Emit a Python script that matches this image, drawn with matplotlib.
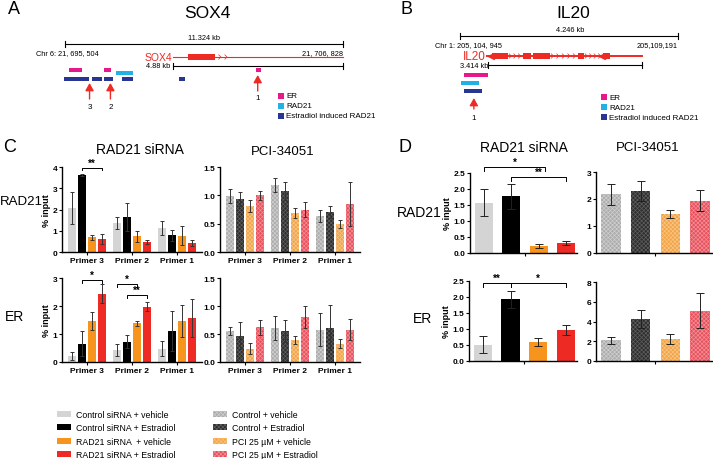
import numpy as np
import matplotlib
matplotlib.use('Agg')
import matplotlib.pyplot as plt
from matplotlib.patches import Rectangle

plt.rcParams['font.family'] = ['Liberation Sans', 'DejaVu Sans']
plt.rcParams['hatch.linewidth'] = 0.5

W, H = 713, 460

# ---------------- data ----------------
primers = ['Primer 3', 'Primer 2', 'Primer 1']
sirna_labels = ['Control siRNA + vehicle', 'Control siRNA + Estradiol',
                'RAD21 siRNA  + vehicle', 'RAD21 siRNA + Estradiol']
pci_labels = ['Control + vehicle', 'Control + Estradiol',
              'PCI 25 \u00b5M + vehicle', 'PCI 25 \u00b5M + Estradiol']

# SOX4 (rows: primer 3, 2, 1; columns: the four conditions)
sox4_rad21_sirna = [[2.07, 3.64, 0.70, 0.62], [1.38, 1.66, 0.75, 0.47], [1.13, 0.78, 0.77, 0.42]]
sox4_rad21_sirna_err = [[0.75, 0.05, 0.12, 0.22], [0.28, 0.65, 0.26, 0.10], [0.35, 0.27, 0.46, 0.13]]
sox4_rad21_pci = [[0.99, 0.94, 0.81, 1.00], [1.18, 1.08, 0.69, 0.75], [0.64, 0.71, 0.49, 0.85]]
sox4_rad21_pci_err = [[0.13, 0.12, 0.10, 0.08], [0.12, 0.16, 0.09, 0.14], [0.11, 0.11, 0.07, 0.39]]
sox4_er_sirna = [[0.21, 0.65, 1.46, 2.44], [0.43, 0.73, 1.38, 1.98], [0.48, 1.11, 1.45, 1.58]]
sox4_er_sirna_err = [[0.15, 0.45, 0.33, 0.35], [0.23, 0.22, 0.08, 0.17], [0.27, 0.70, 0.57, 0.67]]
sox4_er_pci = [[0.55, 0.47, 0.24, 0.62], [0.61, 0.55, 0.39, 0.80], [0.58, 0.61, 0.33, 0.58]]
sox4_er_pci_err = [[0.07, 0.24, 0.10, 0.13], [0.22, 0.20, 0.07, 0.20], [0.30, 0.40, 0.08, 0.19]]

# IL20
il20_rad21_sirna = [1.57, 1.77, 0.22, 0.32]
il20_rad21_sirna_err = [0.42, 0.38, 0.07, 0.06]
il20_rad21_pci = [2.17, 2.30, 1.46, 1.94]
il20_rad21_pci_err = [0.38, 0.38, 0.15, 0.39]
il20_er_sirna = [0.51, 1.93, 0.59, 0.97]
il20_er_sirna_err = [0.26, 0.26, 0.12, 0.17]
il20_er_pci = [2.10, 4.24, 2.20, 5.08]
il20_er_pci_err = [0.35, 0.90, 0.50, 1.76]

# genomic tracks (kb from region start)
sox4_span_kb = 11.324
sox4_er_peaks = [(0.16, 0.69), (1.59, 1.87), (7.77, 7.98)]
sox4_rad21_peaks = [(2.08, 2.77)]
sox4_e2_rad21_peaks = [(-0.04, 0.98), (1.10, 1.51), (1.59, 1.96), (2.32, 2.77), (4.64, 4.89)]
sox4_gene = (4.40, 11.324)
sox4_exons = [(5.0, 6.1)]
sox4_primers = [(1.0, '3'), (1.85, '2'), (7.85, '1')]

il20_span_kb = 4.246
il20_er_peaks = [(0.08, 0.55)]
il20_rad21_peaks = [(0.02, 0.37)]
il20_e2_rad21_peaks = [(0.08, 0.43)]
il20_gene = (0.53, 3.55)
il20_exons = [(0.62, 0.94), (1.23, 1.38), (1.42, 1.75), (2.30, 2.42), (2.79, 2.92)]
il20_primers = [(0.27, '1')]

sirna_colors = ['#d4d4d4', '#000000', '#f7941d', '#ee2a24']
pci_face = ['#acacac', '#2e2e2e', '#f2a447', '#e8505c']
pci_hatch = ['#cfcfcf', '#5e5e5e', '#f7c585', '#f28e96']
ER_C, RAD_C, E2_C, GENE_C = '#e8178a', '#22b1e4', '#283593', '#ee2a24'


def rect(x0, y0, x1, y1):
    return [x0 / W, 1 - y1 / H, (x1 - x0) / W, (y1 - y0) / H]


def style(ax, top, step, fmt):
    for s in ['top', 'right']:
        ax.spines[s].set_visible(False)
    for s in ['left', 'bottom']:
        ax.spines[s].set_linewidth(1.0)
    ticks = np.arange(0, top + step / 2, step)
    ax.set_ylim(0, top)
    ax.set_yticks(ticks)
    ax.set_yticklabels([fmt.format(t) for t in ticks], fontweight='bold')
    ax.tick_params(axis='both', length=2.5, width=0.8, labelsize=6, pad=1)


def grouped(ax, vals, errs, faces, hatches=None):
    vals, errs = np.array(vals), np.array(errs)
    x = np.arange(len(primers))
    offs = (np.arange(4) - 1.5) * 0.22
    conts = []
    for j in range(4):
        kw = dict(color=faces[j], linewidth=0)
        if hatches is not None:
            kw.update(edgecolor=hatches[j], hatch='xxxxxxxx')
        c = ax.bar(x + offs[j], vals[:, j], 0.17, yerr=errs[:, j],
                   error_kw=dict(ecolor='#333333', elinewidth=0.7, capsize=1.5, capthick=0.7),
                   **kw)
        conts.append(c)
    ax.set_xlim(-0.55, 2.55)
    ax.set_xticks(x)
    ax.set_xticklabels(primers, fontweight='bold', fontsize=6.8)
    return conts, x, offs


def single(ax, vals, errs, faces, hatches=None):
    x = np.arange(4)
    for j in range(4):
        kw = dict(color=faces[j], linewidth=0)
        if hatches is not None:
            kw.update(edgecolor=hatches[j], hatch='xxxxxxxx')
        ax.bar(x[j], vals[j], 0.66, yerr=errs[j],
               error_kw=dict(ecolor='#222222', elinewidth=0.7, capsize=3, capthick=0.7), **kw)
    ax.set_xlim(-0.5, 3.4)
    ax.set_xticks([1.5])
    ax.set_xticklabels([''])
    return x


def bracket(ax, x1, x2, y, h, txt):
    ax.plot([x1, x1, x2, x2], [y - h, y, y, y - h], color='k', lw=0.7, clip_on=False)
    ax.text((x1 + x2) / 2, y, txt, ha='center', va='bottom', fontsize=7, fontweight='bold')


fig = plt.figure(figsize=(W / 100, H / 100), dpi=100)

# ---------------- overlay for diagrams and labels ----------------
ov = fig.add_axes([0, 0, 1, 1])
ov.set_xlim(0, W)
ov.set_ylim(H, 0)
ov.axis('off')


def chevrons(x0, x1, y, n, size=2.2):
    for cx in np.linspace(x0, x1, n):
        ov.plot([cx - size, cx, cx - size], [y - size, y, y + size], color=GENE_C, lw=0.5)


def scale_bar(x0, x1, y):
    ov.plot([x0, x1], [y, y], color='k', lw=0.8)
    ov.plot([x0, x0], [y - 3, y + 3], color='k', lw=0.8)
    ov.plot([x1, x1], [y - 3, y + 3], color='k', lw=0.8)


def peaks(lst, fx, y, color, h=4):
    for a, b in lst:
        ov.add_patch(Rectangle((fx(a), y - h / 2), fx(b) - fx(a), h, color=color, lw=0))


def track_legend(x, y):
    for k, (lab, c) in enumerate([('ER', ER_C), ('RAD21', RAD_C), ('Estradiol induced RAD21', E2_C)]):
        yy = y + k * 10
        ov.add_patch(Rectangle((x, yy - 2.8), 5.5, 5.5, color=c, lw=0))
        ov.text(x + 8, yy, lab, fontsize=5.8, va='center', ha='left')


def up_arrow(x, y0, y1, lab, ylab):
    ov.annotate('', xy=(x, y1), xytext=(x, y0),
                arrowprops=dict(arrowstyle='-|>,head_width=0.5,head_length=0.9',
                                color=GENE_C, lw=1.0, mutation_scale=5,
                                shrinkA=0, shrinkB=0))
    ov.text(x, ylab, lab, fontsize=5.8, ha='center', va='center')


# panel A : SOX4
ax_px = (343 - 65) / sox4_span_kb
sx = lambda kb: 65 + kb * ax_px
ov.text(8, 9, 'A', fontsize=13, va='center')
ov.text(207, 13, 'SOX4', fontsize=12.5, ha='center', va='center')
scale_bar(65, 343, 45)
ov.text(204, 42, '11.324 kb', fontsize=5.3, ha='center', va='bottom')
ov.text(36, 53.5, 'Chr 6: 21, 695, 504', fontsize=5.3, ha='left', va='center')
ov.text(343, 53.5, '21, 706, 828', fontsize=5.3, ha='right', va='center')
ov.text(172, 58, 'SOX4', fontsize=7.5, ha='right', va='center', color=GENE_C)
ov.plot([sx(sox4_gene[0]), sx(sox4_gene[1])], [58, 58], color=GENE_C, lw=0.8)
for a, b in sox4_exons:
    ov.add_patch(Rectangle((sx(a), 55.3), sx(b) - sx(a), 5.4, color=GENE_C, lw=0))
chevrons(sx(6.35), sx(6.6), 58, 2)
ov.text(170, 66.5, '4.88 kb', fontsize=5.3, ha='right', va='center')
scale_bar(sx(sox4_gene[0]), 343, 67)
peaks(sox4_er_peaks, sx, 71, ER_C)
peaks(sox4_rad21_peaks, sx, 74, RAD_C)
peaks(sox4_e2_rad21_peaks, sx, 80, E2_C)
for kb, lab in sox4_primers:
    if lab == '1':
        up_arrow(sx(kb), 92, 76, lab, 99)
    else:
        up_arrow(sx(kb), 100, 84, lab, 107.5)
track_legend(278, 97)

# panel B : IL20
bx_px = (678 - 460) / il20_span_kb
bx = lambda kb: 460 + kb * bx_px
ov.text(400, 9, 'B', fontsize=13, va='center')
ov.text(573, 13, 'IL20', fontsize=12.5, ha='center', va='center')
scale_bar(460, 678, 37)
ov.text(570, 33.5, '4.246 kb', fontsize=5.3, ha='center', va='bottom')
ov.text(435, 46, 'Chr 1: 205, 104, 945', fontsize=5.3, ha='left', va='center')
ov.text(678, 46, '205,109,191', fontsize=5.3, ha='right', va='center')
ov.text(486, 57.5, 'IL20', fontsize=8.5, ha='right', va='center', color=GENE_C)
ov.plot([bx(il20_gene[0]), bx(il20_gene[1])], [57, 57], color=GENE_C, lw=1.4)
for a, b in il20_exons:
    ov.add_patch(Rectangle((bx(a), 54), bx(b) - bx(a), 6, color=GENE_C, lw=0))
ov.plot([bx(il20_exons[0][0]) - 1, bx(il20_exons[4][0]) - 1], [57, 57], marker='<',
        ls='none', color=GENE_C, ms=4)
chevrons(bx(1.0), bx(1.18), 57, 3)
chevrons(bx(1.82), bx(2.25), 57, 5)
chevrons(bx(2.48), bx(2.74), 57, 4)
ov.text(488, 66, '3.414 kb', fontsize=5.3, ha='right', va='center')
scale_bar(bx(il20_gene[0]) + 1, bx(il20_gene[1]), 66)
peaks(il20_er_peaks, bx, 76, ER_C)
peaks(il20_rad21_peaks, bx, 84, RAD_C)
peaks(il20_e2_rad21_peaks, bx, 92, E2_C)
for kb, lab in il20_primers:
    up_arrow(bx(kb), 110, 99, lab, 118)
track_legend(601, 98)

# panel letters / titles for C and D
ov.text(3, 148, 'C', fontsize=13, va='center')
ov.text(140, 150, 'RAD21 siRNA', fontsize=10, ha='center', va='center')
ov.text(283, 152, 'PCI-34051', fontsize=9.5, ha='center', va='center')
ov.text(0, 202, 'RAD21', fontsize=9.5, ha='left', va='center')
ov.text(5, 317, 'ER', fontsize=10, ha='left', va='center')
ov.text(398, 148, 'D', fontsize=13, va='center')
ov.text(524, 148, 'RAD21 siRNA', fontsize=10, ha='center', va='center')
ov.text(648, 148, 'PCI-34051', fontsize=9.5, ha='center', va='center')
ov.text(397, 213, 'RAD21', fontsize=10, ha='left', va='center')
ov.text(413, 319, 'ER', fontsize=10, ha='left', va='center')

# ---------------- panel C ----------------
c_ul = fig.add_axes(rect(62, 168, 202, 253))
sirna_handles, xg, offs = grouped(c_ul, sox4_rad21_sirna, sox4_rad21_sirna_err, sirna_colors)
style(c_ul, 4, 1, '{:.0f}')
c_ul.set_ylabel('% input', fontsize=6.5, fontweight='bold', labelpad=1)
bracket(c_ul, xg[0] + offs[1], xg[0] + offs[3], 3.97, 0.12, '**')

c_ur = fig.add_axes(rect(220, 168, 360, 253))
pci_handles, _, _ = grouped(c_ur, sox4_rad21_pci, sox4_rad21_pci_err, pci_face, pci_hatch)
style(c_ur, 1.5, 0.5, '{:.1f}')

c_ll = fig.add_axes(rect(62, 279, 202, 363))
grouped(c_ll, sox4_er_sirna, sox4_er_sirna_err, sirna_colors)
style(c_ll, 3, 1, '{:.0f}')
c_ll.set_ylabel('% input', fontsize=6.5, fontweight='bold', labelpad=1)
bracket(c_ll, xg[0] + offs[1], xg[0] + offs[3], 2.93, 0.12, '*')
bracket(c_ll, xg[1] + offs[0], xg[1] + offs[2], 2.8, 0.12, '*')
bracket(c_ll, xg[1] + offs[1], xg[1] + offs[3], 2.4, 0.12, '**')

c_lr = fig.add_axes(rect(220, 279, 360, 363))
grouped(c_lr, sox4_er_pci, sox4_er_pci_err, pci_face, pci_hatch)
style(c_lr, 1.5, 0.5, '{:.1f}')

# ---------------- panel D ----------------
d_ul = fig.add_axes(rect(470, 174, 577, 254))
xs = single(d_ul, il20_rad21_sirna, il20_rad21_sirna_err, sirna_colors)
style(d_ul, 2.5, 0.5, '{:.1f}')
d_ul.set_ylabel('% input', fontsize=6.5, fontweight='bold', labelpad=1)
bracket(d_ul, xs[0], xs[2] + 0.25, 2.69, 0.12, '*')
bracket(d_ul, xs[1], xs[3], 2.37, 0.12, '**')

d_ur = fig.add_axes(rect(596, 173, 712, 254))
single(d_ur, il20_rad21_pci, il20_rad21_pci_err, pci_face, pci_hatch)
style(d_ur, 3, 1, '{:.0f}')

d_ll = fig.add_axes(rect(469, 282, 577, 362))
single(d_ll, il20_er_sirna, il20_er_sirna_err, sirna_colors)
style(d_ll, 2.5, 0.5, '{:.1f}')
d_ll.set_ylabel('% input', fontsize=6.5, fontweight='bold', labelpad=1)
bracket(d_ll, xs[0], xs[1], 2.44, 0.12, '**')
bracket(d_ll, xs[1], xs[3], 2.44, 0.12, '*')

d_lr = fig.add_axes(rect(596, 283, 712, 362))
single(d_lr, il20_er_pci, il20_er_pci_err, pci_face, pci_hatch)
style(d_lr, 8, 2, '{:.0f}')

# ---------------- legends ----------------
leg_kw = dict(loc='upper left', frameon=False, fontsize=6.3, handlelength=1.6,
              handleheight=0.7, labelspacing=0.5, handletextpad=0.6, borderpad=0,
              borderaxespad=0)
fig.legend([h.patches[0] for h in sirna_handles], sirna_labels,
           bbox_to_anchor=(57 / W, 1 - 411 / H), **leg_kw)
fig.legend([h.patches[0] for h in pci_handles], pci_labels,
           bbox_to_anchor=(213 / W, 1 - 411 / H), **leg_kw)

fig.savefig('out.png', dpi=100)
